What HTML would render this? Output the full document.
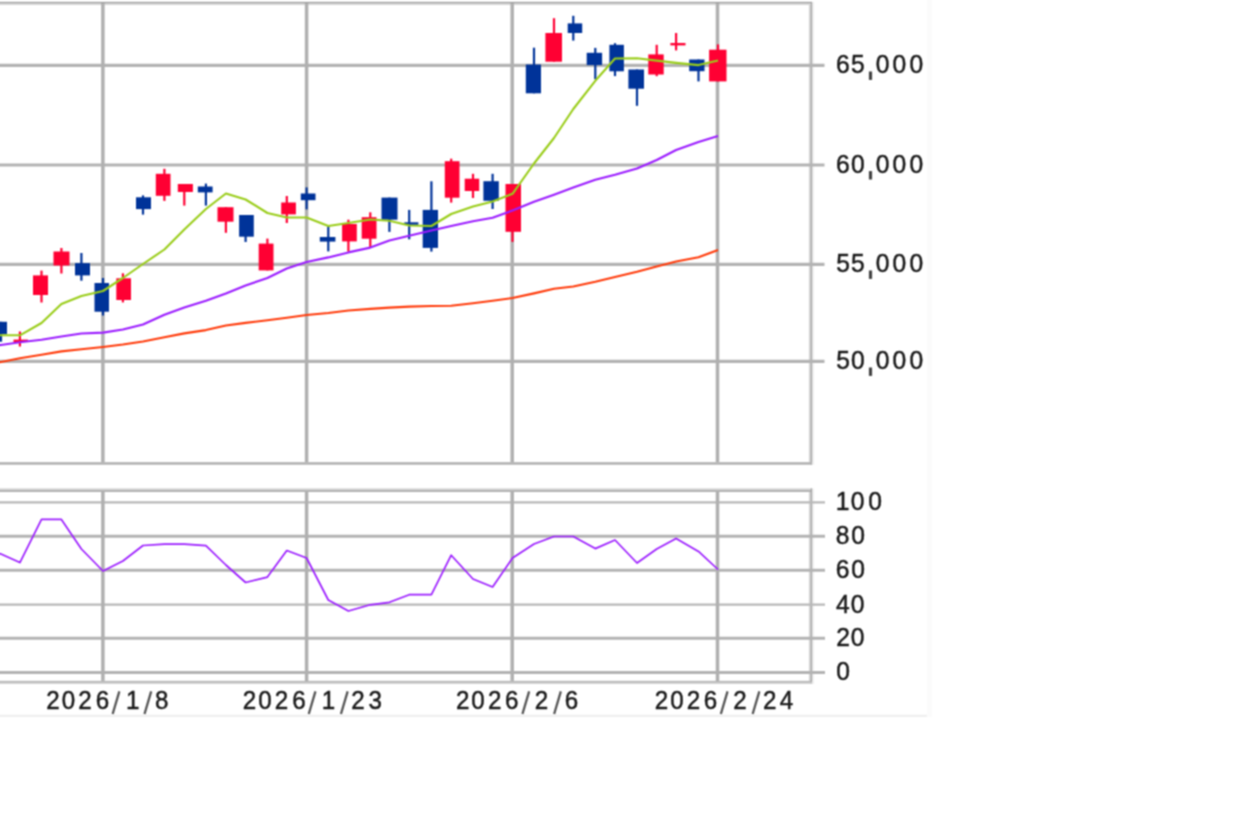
<!DOCTYPE html>
<html><head><meta charset="utf-8"><style>
html,body{margin:0;padding:0;background:#fff;}
body{width:1260px;height:815px;overflow:hidden;position:relative;}
svg{position:absolute;left:0;top:0;}
text{font-family:"Liberation Sans",sans-serif;font-size:26px;fill:#1a1a1a;stroke:#1a1a1a;stroke-width:0.5px;}
</style></head><body>
<svg width="1260" height="815" viewBox="0 0 1260 815">
<defs><filter id="soft" x="0" y="0" width="1260" height="815" filterUnits="userSpaceOnUse" color-interpolation-filters="sRGB"><feConvolveMatrix order="3" kernelMatrix="1 2 1 2 4 2 1 2 1" divisor="16" edgeMode="duplicate"/></filter></defs>
<rect x="0" y="0" width="1260" height="815" fill="#ffffff"/>
<g filter="url(#soft)">
<rect x="0" y="0" width="1260" height="815" fill="#ffffff"/>
<rect x="926.8" y="0" width="5.1" height="717" fill="#fbfbfb"/>
<rect x="0" y="714.7" width="926.8" height="2.3" fill="#efefef"/>
<rect x="0" y="1.9" width="812" height="1.2" fill="#9a9a9a"/>
<rect x="0" y="3.1" width="809" height="1.9" fill="#d2d2d2"/>
<rect x="808.9" y="3.1" width="1.9" height="459.1" fill="#d2d2d2"/>
<rect x="810.8" y="1.9" width="1.2" height="462.8" fill="#a0a0a0"/>
<rect x="812" y="1.9" width="1.9" height="462.8" fill="#ececec"/>
<rect x="0" y="462.2" width="812" height="2.5" fill="#b0b0b0"/>
<line x1="0" y1="65.4" x2="824.5" y2="65.4" stroke="#b3b3b3" stroke-width="3.2"/>
<line x1="0" y1="165.0" x2="824.5" y2="165.0" stroke="#b3b3b3" stroke-width="3.2"/>
<line x1="0" y1="264.4" x2="824.5" y2="264.4" stroke="#b3b3b3" stroke-width="3.2"/>
<line x1="0" y1="361.4" x2="824.5" y2="361.4" stroke="#b3b3b3" stroke-width="3.2"/>
<line x1="102.9" y1="3.1" x2="102.9" y2="462.2" stroke="#b0b0b0" stroke-width="3.5"/>
<line x1="306.6" y1="3.1" x2="306.6" y2="462.2" stroke="#b0b0b0" stroke-width="3.5"/>
<line x1="512.2" y1="3.1" x2="512.2" y2="462.2" stroke="#b0b0b0" stroke-width="3.5"/>
<line x1="717.5" y1="3.1" x2="717.5" y2="462.2" stroke="#b0b0b0" stroke-width="3.5"/>
<rect x="0" y="488.4" width="812" height="1.8" fill="#d2d2d2"/>
<rect x="0" y="490.2" width="812" height="1.7" fill="#a8a8a8"/>
<rect x="808.9" y="491.9" width="1.9" height="189" fill="#d2d2d2"/>
<rect x="810.8" y="488.4" width="1.2" height="195.4" fill="#a0a0a0"/>
<rect x="812" y="488.4" width="1.9" height="195.4" fill="#ececec"/>
<rect x="0" y="680.9" width="812" height="0.9" fill="#a0a0a0"/>
<rect x="0" y="681.8" width="812" height="2.0" fill="#c8c8c8"/>
<line x1="0" y1="502.4" x2="825" y2="502.4" stroke="#b8b8b8" stroke-width="2.2"/>
<line x1="0" y1="536.3" x2="825" y2="536.3" stroke="#b3b3b3" stroke-width="3.0"/>
<line x1="0" y1="570.3" x2="825" y2="570.3" stroke="#b3b3b3" stroke-width="3.0"/>
<line x1="0" y1="604.6" x2="825" y2="604.6" stroke="#b8b8b8" stroke-width="2.2"/>
<line x1="0" y1="638.2" x2="825" y2="638.2" stroke="#b3b3b3" stroke-width="3.0"/>
<line x1="0" y1="672.4" x2="825" y2="672.4" stroke="#b3b3b3" stroke-width="3.0"/>
<line x1="102.9" y1="491.9" x2="102.9" y2="680.9" stroke="#b0b0b0" stroke-width="3.5"/>
<line x1="306.6" y1="491.9" x2="306.6" y2="680.9" stroke="#b0b0b0" stroke-width="3.5"/>
<line x1="512.2" y1="491.9" x2="512.2" y2="680.9" stroke="#b0b0b0" stroke-width="3.5"/>
<line x1="717.5" y1="491.9" x2="717.5" y2="680.9" stroke="#b0b0b0" stroke-width="3.5"/>
<rect x="-0.1" y="321.8" width="2.2" height="19.9" fill="#003399"/>
<rect x="-7" y="321.8" width="14.0" height="12.2" fill="#003399"/>
<rect x="18.8" y="331.5" width="2.2" height="15.0" fill="#ff0033"/>
<rect x="13.5" y="339.6" width="14.5" height="2.4" fill="#ff0033"/>
<rect x="40.4" y="270.6" width="2.2" height="31.9" fill="#ff0033"/>
<rect x="33" y="275.4" width="15.0" height="19.6" fill="#ff0033"/>
<rect x="60.3" y="248" width="2.2" height="25.5" fill="#ff0033"/>
<rect x="53.5" y="251.5" width="16.0" height="14.0" fill="#ff0033"/>
<rect x="80.3" y="253" width="2.2" height="27.7" fill="#003399"/>
<rect x="75" y="263.1" width="15.0" height="12.3" fill="#003399"/>
<rect x="101.9" y="278" width="2.2" height="37.5" fill="#003399"/>
<rect x="94.5" y="283" width="14.5" height="28.7" fill="#003399"/>
<rect x="121.8" y="273.3" width="2.2" height="29.1" fill="#ff0033"/>
<rect x="116.3" y="278.3" width="14.7" height="21.7" fill="#ff0033"/>
<rect x="141.9" y="195.4" width="2.2" height="19.2" fill="#003399"/>
<rect x="136" y="197.3" width="15.0" height="11.8" fill="#003399"/>
<rect x="163.3" y="168.8" width="2.2" height="32.1" fill="#ff0033"/>
<rect x="155.8" y="173.8" width="14.7" height="22.0" fill="#ff0033"/>
<rect x="183.2" y="184" width="2.2" height="21.6" fill="#ff0033"/>
<rect x="177.8" y="184" width="15.1" height="8.0" fill="#ff0033"/>
<rect x="204.8" y="183.6" width="2.2" height="22.0" fill="#003399"/>
<rect x="197.8" y="186.5" width="14.8" height="5.9" fill="#003399"/>
<rect x="224.8" y="207.2" width="2.2" height="25.6" fill="#ff0033"/>
<rect x="217.5" y="207.2" width="16.0" height="14.5" fill="#ff0033"/>
<rect x="244.5" y="215" width="2.2" height="27.0" fill="#003399"/>
<rect x="239.1" y="215" width="14.7" height="21.7" fill="#003399"/>
<rect x="266.3" y="238.6" width="2.2" height="31.8" fill="#ff0033"/>
<rect x="258.7" y="243.6" width="14.8" height="26.8" fill="#ff0033"/>
<rect x="285.7" y="196" width="2.2" height="27.0" fill="#ff0033"/>
<rect x="281.2" y="202.5" width="14.7" height="11.9" fill="#ff0033"/>
<rect x="305.5" y="187.4" width="2.2" height="22.0" fill="#003399"/>
<rect x="300.8" y="193.5" width="14.7" height="6.7" fill="#003399"/>
<rect x="327.2" y="226.6" width="2.2" height="24.8" fill="#003399"/>
<rect x="319.8" y="237" width="15.6" height="4.6" fill="#003399"/>
<rect x="347.3" y="219.7" width="2.2" height="31.9" fill="#ff0033"/>
<rect x="342.1" y="224" width="14.7" height="17.4" fill="#ff0033"/>
<rect x="369.2" y="212.3" width="2.2" height="34.7" fill="#ff0033"/>
<rect x="361.7" y="217.2" width="14.8" height="21.5" fill="#ff0033"/>
<rect x="388.3" y="197.6" width="2.2" height="34.3" fill="#003399"/>
<rect x="381.5" y="197.6" width="16.0" height="22.1" fill="#003399"/>
<rect x="408.1" y="209.9" width="2.2" height="29.4" fill="#003399"/>
<rect x="404.3" y="222.3" width="14.1" height="2.5" fill="#003399"/>
<rect x="430.3" y="181.3" width="2.2" height="70.3" fill="#003399"/>
<rect x="422.7" y="209.9" width="15.3" height="38.0" fill="#003399"/>
<rect x="450.1" y="158.7" width="2.2" height="43.9" fill="#ff0033"/>
<rect x="444.8" y="161.2" width="14.7" height="36.5" fill="#ff0033"/>
<rect x="471.9" y="173.8" width="2.2" height="24.2" fill="#ff0033"/>
<rect x="464.7" y="178.7" width="14.5" height="12.3" fill="#ff0033"/>
<rect x="491.5" y="173.8" width="2.2" height="35.2" fill="#003399"/>
<rect x="483.4" y="181.2" width="15.4" height="19.6" fill="#003399"/>
<rect x="511.4" y="184" width="2.2" height="57.9" fill="#ff0033"/>
<rect x="505.5" y="184" width="15.5" height="47.8" fill="#ff0033"/>
<rect x="532.9" y="47.7" width="2.2" height="45.6" fill="#003399"/>
<rect x="525.8" y="64.5" width="15.2" height="28.8" fill="#003399"/>
<rect x="552.9" y="18.2" width="2.2" height="43.5" fill="#ff0033"/>
<rect x="545.4" y="33" width="16.6" height="28.7" fill="#ff0033"/>
<rect x="572.2" y="15.8" width="2.2" height="24.8" fill="#003399"/>
<rect x="567.7" y="23.4" width="14.5" height="9.6" fill="#003399"/>
<rect x="594.2" y="47.9" width="2.2" height="31.3" fill="#003399"/>
<rect x="586.7" y="52.8" width="15.4" height="12.3" fill="#003399"/>
<rect x="613.9" y="43.2" width="2.2" height="32.9" fill="#003399"/>
<rect x="609.4" y="44.8" width="14.5" height="26.5" fill="#003399"/>
<rect x="635.9" y="69.5" width="2.2" height="36.3" fill="#003399"/>
<rect x="628.4" y="69.5" width="15.6" height="19.2" fill="#003399"/>
<rect x="655.6" y="44.8" width="2.2" height="31.4" fill="#ff0033"/>
<rect x="648.3" y="54.4" width="15.4" height="20.1" fill="#ff0033"/>
<rect x="675.0" y="33" width="2.2" height="17.4" fill="#ff0033"/>
<rect x="670.4" y="43" width="15.1" height="2.4" fill="#ff0033"/>
<rect x="697.4" y="59.5" width="2.2" height="21.9" fill="#003399"/>
<rect x="689.2" y="59.5" width="15.3" height="11.7" fill="#003399"/>
<rect x="716.9" y="44.4" width="2.2" height="37.0" fill="#ff0033"/>
<rect x="709.1" y="49.7" width="17.4" height="31.7" fill="#ff0033"/>
<polyline points="-19.4,365.7 1.0,362.0 19.9,358.3 41.5,354.8 61.4,351.4 81.4,349.3 103.0,347.0 122.9,344.5 143.0,341.5 164.4,337.3 184.3,333.4 205.9,330.1 225.9,325.5 245.6,322.9 267.4,320.2 286.8,317.7 306.6,315.0 328.3,313.0 348.4,310.5 370.3,308.9 389.4,307.6 409.2,306.6 431.4,306.0 451.2,305.7 473.0,303.2 492.6,300.7 512.5,298.0 534.0,293.4 554.0,288.8 573.3,286.5 595.3,281.8 615.0,277.0 637.0,271.8 656.7,266.5 676.1,261.5 698.5,257.3 718.0,250.0" fill="none" stroke="#ff3a0a" stroke-width="2.1" stroke-linejoin="round"/>
<polyline points="-19.4,347.8 1.0,345.0 19.9,342.2 41.5,339.7 61.4,336.5 81.4,333.5 103.0,332.6 122.9,329.5 143.0,324.5 164.4,314.8 184.3,307.5 205.9,300.8 225.9,293.5 245.6,285.5 267.4,278.0 286.8,268.5 306.6,262.0 328.3,257.4 348.4,252.4 370.3,247.6 389.4,240.5 409.2,235.7 431.4,230.5 451.2,226.0 473.0,221.2 492.6,217.7 512.5,210.5 534.0,201.8 554.0,194.7 573.3,187.5 595.3,179.7 615.0,174.7 637.0,168.5 656.7,160.0 676.1,150.0 698.5,142.0 718.0,136.0" fill="none" stroke="#9b1cff" stroke-width="2.1" stroke-linejoin="round"/>
<polyline points="-19.4,335.3 1.0,335.3 19.9,335.3 41.5,323.0 61.4,304.0 81.4,296.0 103.0,291.0 122.9,278.0 143.0,264.0 164.4,249.5 184.3,229.5 205.9,209.0 225.9,193.5 245.6,199.5 267.4,213.0 286.8,217.5 306.6,217.5 328.3,226.0 348.4,223.0 370.3,219.5 389.4,220.8 409.2,225.5 431.4,226.0 451.2,214.0 473.0,206.6 492.6,201.4 512.5,193.8 534.0,163.5 554.0,138.0 573.3,109.0 595.3,80.8 615.0,58.5 637.0,58.3 656.7,60.6 676.1,62.9 698.5,65.1 718.0,60.6" fill="none" stroke="#9acd1a" stroke-width="2.1" stroke-linejoin="round"/>
<polyline points="-19.4,545.4 1.0,554.0 19.9,562.6 41.5,519.4 61.4,519.4 81.4,549.0 103.0,571.0 122.9,561.0 143.0,545.5 164.4,544.1 184.3,544.1 205.9,545.7 225.9,565.0 245.6,582.5 267.4,577.1 286.8,550.5 306.6,558.0 328.3,600.0 348.4,611.0 370.3,604.8 389.4,602.3 409.2,594.7 431.4,594.7 451.2,555.2 473.0,579.0 492.6,587.0 512.5,558.0 534.0,544.0 554.0,536.5 573.3,536.5 595.3,548.6 615.0,540.0 637.0,563.0 656.7,549.0 676.1,538.6 698.5,551.4 718.0,569.5" fill="none" stroke="#9b1cff" stroke-width="1.7" stroke-linejoin="round"/>
<text x="835.55" y="73.50" style="font-size:26.5px" transform="translate(843.00,0) scale(0.93,1) translate(-843.00,0)">6</text>
<text x="850.55" y="73.50" style="font-size:26.5px" transform="translate(857.90,0) scale(0.93,1) translate(-857.90,0)">5</text>
<rect x="868.9" y="71.50" width="3.2" height="8.4" fill="#444"/>
<text x="875.15" y="73.50" style="font-size:26.5px" transform="translate(882.50,0) scale(0.93,1) translate(-882.50,0)">0</text>
<text x="892.05" y="73.50" style="font-size:26.5px" transform="translate(899.40,0) scale(0.93,1) translate(-899.40,0)">0</text>
<text x="909.05" y="73.50" style="font-size:26.5px" transform="translate(916.40,0) scale(0.93,1) translate(-916.40,0)">0</text>
<text x="835.55" y="173.10" style="font-size:26.5px" transform="translate(843.00,0) scale(0.93,1) translate(-843.00,0)">6</text>
<text x="850.55" y="173.10" style="font-size:26.5px" transform="translate(857.90,0) scale(0.93,1) translate(-857.90,0)">0</text>
<rect x="868.9" y="171.10" width="3.2" height="8.4" fill="#444"/>
<text x="875.15" y="173.10" style="font-size:26.5px" transform="translate(882.50,0) scale(0.93,1) translate(-882.50,0)">0</text>
<text x="892.05" y="173.10" style="font-size:26.5px" transform="translate(899.40,0) scale(0.93,1) translate(-899.40,0)">0</text>
<text x="909.05" y="173.10" style="font-size:26.5px" transform="translate(916.40,0) scale(0.93,1) translate(-916.40,0)">0</text>
<text x="835.65" y="272.50" style="font-size:26.5px" transform="translate(843.00,0) scale(0.93,1) translate(-843.00,0)">5</text>
<text x="850.55" y="272.50" style="font-size:26.5px" transform="translate(857.90,0) scale(0.93,1) translate(-857.90,0)">5</text>
<rect x="868.9" y="270.50" width="3.2" height="8.4" fill="#444"/>
<text x="875.15" y="272.50" style="font-size:26.5px" transform="translate(882.50,0) scale(0.93,1) translate(-882.50,0)">0</text>
<text x="892.05" y="272.50" style="font-size:26.5px" transform="translate(899.40,0) scale(0.93,1) translate(-899.40,0)">0</text>
<text x="909.05" y="272.50" style="font-size:26.5px" transform="translate(916.40,0) scale(0.93,1) translate(-916.40,0)">0</text>
<text x="835.65" y="369.50" style="font-size:26.5px" transform="translate(843.00,0) scale(0.93,1) translate(-843.00,0)">5</text>
<text x="850.55" y="369.50" style="font-size:26.5px" transform="translate(857.90,0) scale(0.93,1) translate(-857.90,0)">0</text>
<rect x="868.9" y="367.50" width="3.2" height="8.4" fill="#444"/>
<text x="875.15" y="369.50" style="font-size:26.5px" transform="translate(882.50,0) scale(0.93,1) translate(-882.50,0)">0</text>
<text x="892.05" y="369.50" style="font-size:26.5px" transform="translate(899.40,0) scale(0.93,1) translate(-899.40,0)">0</text>
<text x="909.05" y="369.50" style="font-size:26.5px" transform="translate(916.40,0) scale(0.93,1) translate(-916.40,0)">0</text>
<text x="835.30" y="510.40" style="font-size:26.5px" transform="translate(843.00,0) scale(0.93,1) translate(-843.00,0)">1</text>
<text x="850.25" y="510.40" style="font-size:26.5px" transform="translate(857.60,0) scale(0.93,1) translate(-857.60,0)">0</text>
<text x="867.85" y="510.40" style="font-size:26.5px" transform="translate(875.20,0) scale(0.93,1) translate(-875.20,0)">0</text>
<text x="835.20" y="544.30" style="font-size:26.5px" transform="translate(842.60,0) scale(0.93,1) translate(-842.60,0)">8</text>
<text x="850.65" y="544.30" style="font-size:26.5px" transform="translate(858.00,0) scale(0.93,1) translate(-858.00,0)">0</text>
<text x="835.15" y="578.30" style="font-size:26.5px" transform="translate(842.60,0) scale(0.93,1) translate(-842.60,0)">6</text>
<text x="850.65" y="578.30" style="font-size:26.5px" transform="translate(858.00,0) scale(0.93,1) translate(-858.00,0)">0</text>
<text x="835.60" y="612.60" style="font-size:26.5px" transform="translate(842.90,0) scale(0.93,1) translate(-842.90,0)">4</text>
<text x="850.25" y="612.60" style="font-size:26.5px" transform="translate(857.60,0) scale(0.93,1) translate(-857.60,0)">0</text>
<text x="835.75" y="646.20" style="font-size:26.5px" transform="translate(843.10,0) scale(0.93,1) translate(-843.10,0)">2</text>
<text x="850.25" y="646.20" style="font-size:26.5px" transform="translate(857.60,0) scale(0.93,1) translate(-857.60,0)">0</text>
<text x="835.85" y="680.40" style="font-size:26.5px" transform="translate(843.20,0) scale(0.93,1) translate(-843.20,0)">0</text>
<text x="45.70" y="709.10" style="font-size:26px" transform="translate(52.95,0) scale(0.93,1) translate(-52.95,0)">2</text>
<text x="61.20" y="709.10" style="font-size:26px" transform="translate(68.40,0) scale(0.93,1) translate(-68.40,0)">0</text>
<text x="77.75" y="709.10" style="font-size:26px" transform="translate(85.00,0) scale(0.93,1) translate(-85.00,0)">2</text>
<text x="95.15" y="709.10" style="font-size:26px" transform="translate(102.45,0) scale(0.93,1) translate(-102.45,0)">6</text>
<line x1="119.35" y1="691.3" x2="112.65" y2="714.0" stroke="#555" stroke-width="2.3"/>
<text x="125.40" y="709.10" style="font-size:26px" transform="translate(133.00,0) scale(0.93,1) translate(-133.00,0)">1</text>
<line x1="151.20" y1="691.3" x2="144.50" y2="714.0" stroke="#555" stroke-width="2.3"/>
<text x="154.60" y="709.10" style="font-size:26px" transform="translate(161.80,0) scale(0.93,1) translate(-161.80,0)">8</text>
<text x="242.25" y="709.10" style="font-size:26px" transform="translate(249.50,0) scale(0.93,1) translate(-249.50,0)">2</text>
<text x="257.70" y="709.10" style="font-size:26px" transform="translate(264.90,0) scale(0.93,1) translate(-264.90,0)">0</text>
<text x="274.35" y="709.10" style="font-size:26px" transform="translate(281.60,0) scale(0.93,1) translate(-281.60,0)">2</text>
<text x="291.70" y="709.10" style="font-size:26px" transform="translate(299.00,0) scale(0.93,1) translate(-299.00,0)">6</text>
<line x1="315.45" y1="691.3" x2="308.75" y2="714.0" stroke="#555" stroke-width="2.3"/>
<text x="321.30" y="709.10" style="font-size:26px" transform="translate(328.90,0) scale(0.93,1) translate(-328.90,0)">1</text>
<line x1="347.65" y1="691.3" x2="340.95" y2="714.0" stroke="#555" stroke-width="2.3"/>
<text x="350.65" y="709.10" style="font-size:26px" transform="translate(357.90,0) scale(0.93,1) translate(-357.90,0)">2</text>
<text x="367.95" y="709.10" style="font-size:26px" transform="translate(375.10,0) scale(0.93,1) translate(-375.10,0)">3</text>
<text x="455.60" y="709.10" style="font-size:26px" transform="translate(462.85,0) scale(0.93,1) translate(-462.85,0)">2</text>
<text x="470.85" y="709.10" style="font-size:26px" transform="translate(478.05,0) scale(0.93,1) translate(-478.05,0)">0</text>
<text x="487.40" y="709.10" style="font-size:26px" transform="translate(494.65,0) scale(0.93,1) translate(-494.65,0)">2</text>
<text x="504.50" y="709.10" style="font-size:26px" transform="translate(511.80,0) scale(0.93,1) translate(-511.80,0)">6</text>
<line x1="529.15" y1="691.3" x2="522.45" y2="714.0" stroke="#555" stroke-width="2.3"/>
<text x="534.15" y="709.10" style="font-size:26px" transform="translate(541.40,0) scale(0.93,1) translate(-541.40,0)">2</text>
<line x1="560.85" y1="691.3" x2="554.15" y2="714.0" stroke="#555" stroke-width="2.3"/>
<text x="564.25" y="709.10" style="font-size:26px" transform="translate(571.55,0) scale(0.93,1) translate(-571.55,0)">6</text>
<text x="654.20" y="709.10" style="font-size:26px" transform="translate(661.45,0) scale(0.93,1) translate(-661.45,0)">2</text>
<text x="669.80" y="709.10" style="font-size:26px" transform="translate(677.00,0) scale(0.93,1) translate(-677.00,0)">0</text>
<text x="686.25" y="709.10" style="font-size:26px" transform="translate(693.50,0) scale(0.93,1) translate(-693.50,0)">2</text>
<text x="703.35" y="709.10" style="font-size:26px" transform="translate(710.65,0) scale(0.93,1) translate(-710.65,0)">6</text>
<line x1="727.55" y1="691.3" x2="720.85" y2="714.0" stroke="#555" stroke-width="2.3"/>
<text x="732.65" y="709.10" style="font-size:26px" transform="translate(739.90,0) scale(0.93,1) translate(-739.90,0)">2</text>
<line x1="759.35" y1="691.3" x2="752.65" y2="714.0" stroke="#555" stroke-width="2.3"/>
<text x="762.60" y="709.10" style="font-size:26px" transform="translate(769.85,0) scale(0.93,1) translate(-769.85,0)">2</text>
<text x="779.35" y="709.10" style="font-size:26px" transform="translate(786.50,0) scale(0.93,1) translate(-786.50,0)">4</text>
</g>
</svg>
</body></html>
